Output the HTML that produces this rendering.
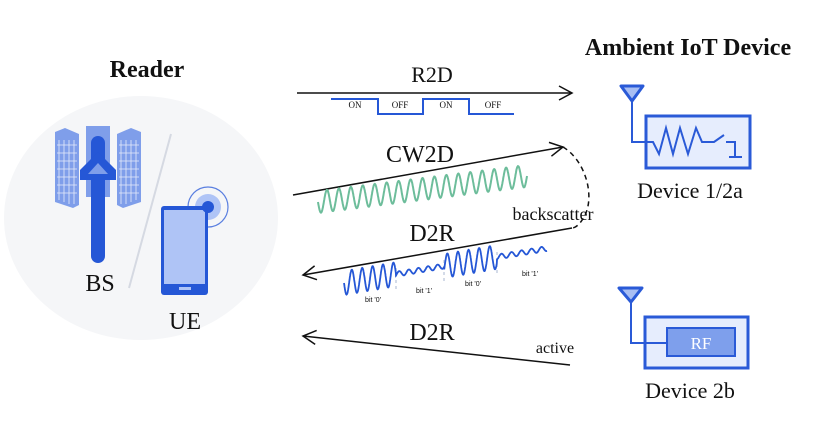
<!DOCTYPE html>
<html><head><style>body{margin:0;background:#fff}svg{display:block}text{font-family:"Liberation Serif",serif;fill:#111}</style></head><body>
<svg width="821" height="425" viewBox="0 0 821 425" xmlns="http://www.w3.org/2000/svg">
<defs><marker id="ah" markerWidth="16" markerHeight="16" refX="14" refY="8" orient="auto" markerUnits="userSpaceOnUse"><path d="M1,1 L14,8 L1,15" fill="none" stroke="#111" stroke-width="1.5"/></marker></defs>
<ellipse cx="141" cy="218" rx="137" ry="122" fill="#f5f6f8"/>
<text x="147" y="77" font-size="24" font-weight="bold" text-anchor="middle">Reader</text>
<text x="688" y="55" font-size="24" font-weight="bold" text-anchor="middle">Ambient IoT Device</text>
<g fill="#7f9eea"><polygon points="55,132 65,128 79,134 79,205 73,208 55,202"/><rect x="86" y="126" width="24" height="71"/><polygon points="117,134 131,128 141,132 141,202 123,208 117,205"/></g>
<g stroke="#fff" stroke-width="0.8" opacity="0.8"><path d="M59,140V200M64,140V202M69,140V204M74,140V204M121,140V204M126,140V204M131,140V202M136,140V200"/><path d="M57,145H77M57,153H77M57,161H77M57,169H77M57,177H77M57,185H77M57,193H77M119,145H139M119,153H139M119,161H139M119,169H139M119,177H139M119,185H139M119,193H139"/></g>
<line x1="98" y1="143" x2="98" y2="256" stroke="#2557d6" stroke-width="14" stroke-linecap="round"/>
<polygon points="80,170 98,152 116,170 116,180 80,180" fill="#2557d6"/>
<polygon points="88,174 98,163 108,174" fill="#7f9eea"/>
<line x1="171" y1="134" x2="129" y2="288" stroke="#d5d9e2" stroke-width="2"/>
<text x="100" y="291" font-size="24" text-anchor="middle">BS</text>
<circle cx="208" cy="207" r="20" fill="none" stroke="#5a7fe0" stroke-width="1.2"/>
<circle cx="208" cy="207" r="13" fill="#afc4f6"/>
<rect x="161" y="206" width="47" height="89" rx="3" fill="#2557d6"/>
<rect x="164" y="210" width="41" height="74" fill="#afc4f6"/>
<rect x="179" y="287" width="12" height="3" fill="#afc4f6"/>
<circle cx="208" cy="207" r="6" fill="#2557d6"/>
<text x="185" y="329" font-size="24" text-anchor="middle">UE</text>
<text x="432" y="82" font-size="22" text-anchor="middle">R2D</text>
<line x1="297" y1="93" x2="572" y2="93" stroke="#111" stroke-width="1.5" marker-end="url(#ah)"/>
<polyline points="331,99 378,99 378,114 423,114 423,99 469,99 469,114 514,114" fill="none" stroke="#2557d6" stroke-width="2"/>
<g font-size="9" text-anchor="middle"><text x="355" y="108">ON</text><text x="400" y="108">OFF</text><text x="446" y="108">ON</text><text x="493" y="108">OFF</text></g>
<text x="420" y="162" font-size="24" text-anchor="middle">CW2D</text>
<line x1="293" y1="195" x2="563" y2="147" stroke="#111" stroke-width="1.5" marker-end="url(#ah)"/>
<path id="g" fill="none" stroke="#6dbd9b" stroke-width="2"/>
<path d="M563,147 C585,160 595,195 585,215 C580,225 575,228 572,228" fill="none" stroke="#111" stroke-width="1.5" stroke-dasharray="5,4"/>
<text x="553" y="220" font-size="18" text-anchor="middle">backscatter</text>
<text x="432" y="241" font-size="24" text-anchor="middle">D2R</text>
<line x1="572" y1="228" x2="303" y2="275" stroke="#111" stroke-width="1.5" marker-end="url(#ah)"/>
<g stroke="#c6cfe0" stroke-width="1.5" stroke-dasharray="3,3"><line x1="396" y1="268" x2="396" y2="292"/><line x1="444" y1="260" x2="444" y2="284"/><line x1="497" y1="252" x2="497" y2="276"/></g>
<path id="b" fill="none" stroke="#2557d6" stroke-width="1.8"/>
<g font-size="7" text-anchor="middle"><text x="373" y="302" style="font-family:'Liberation Sans',sans-serif">bit '0'</text><text x="424" y="293" style="font-family:'Liberation Sans',sans-serif">bit '1'</text><text x="473" y="286" style="font-family:'Liberation Sans',sans-serif">bit '0'</text><text x="530" y="276" style="font-family:'Liberation Sans',sans-serif">bit '1'</text></g>
<text x="432" y="340" font-size="24" text-anchor="middle">D2R</text>
<line x1="570" y1="365" x2="303" y2="336" stroke="#111" stroke-width="1.5" marker-end="url(#ah)"/>
<text x="555" y="353" font-size="16" text-anchor="middle">active</text>
<rect x="646" y="116" width="104" height="52" fill="#e6edfd" stroke="#2a5ad7" stroke-width="3"/>
<polygon points="621,86 643,86 632,101" fill="#a8bef3" stroke="#2a5ad7" stroke-width="3" stroke-linejoin="round"/>
<polyline points="632,99 632,142 653,142 659,154 666,128 673,154 680,128 688,154 696,128 702,142 714,142 724,135" fill="none" stroke="#2a5ad7" stroke-width="2"/>
<polyline points="726,142 735,142 735,156" fill="none" stroke="#2a5ad7" stroke-width="2"/>
<line x1="729" y1="157" x2="742" y2="157" stroke="#2a5ad7" stroke-width="2"/>
<text x="690" y="198" font-size="22" text-anchor="middle">Device 1/2a</text>
<rect x="645" y="317" width="103" height="51" fill="#e6edfd" stroke="#2a5ad7" stroke-width="3"/>
<polygon points="619,288 642,288 631,302" fill="#a8bef3" stroke="#2a5ad7" stroke-width="3" stroke-linejoin="round"/>
<polyline points="631,300 631,343 667,343" fill="none" stroke="#2a5ad7" stroke-width="2"/>
<rect x="667" y="328" width="68" height="28" fill="#7e9fec" stroke="#2a5ad7" stroke-width="2"/>
<text x="701" y="349" font-size="17" text-anchor="middle" style="fill:#fff">RF</text>
<text x="690" y="398" font-size="22" text-anchor="middle">Device 2b</text>
<script>
(function(){
var d="";for(var i=0;i<=600;i++){var t=i/600;var x=318+209*t;var yc=202-26*t;var y=yc+11*Math.sin(t*2*Math.PI*17.5);d+=(i?"L":"M")+x.toFixed(1)+","+y.toFixed(1);}
document.getElementById("g").setAttribute("d",d);
var e="";for(var i=0;i<=800;i++){var x=344+i*(203/800);var yc=283-(x-344)*0.17;var a,f;
if(x<396){a=12;f=5/52;}else if(x<444){a=2.5;f=5/48;}else if(x<497){a=12;f=5/53;}else{a=2.5;f=5/50;}
var y=yc+a*Math.sin((x-344)*2*Math.PI*f);e+=(i?"L":"M")+x.toFixed(1)+","+y.toFixed(1);}
document.getElementById("b").setAttribute("d",e);
})();
</script>
</svg>
</body></html>
